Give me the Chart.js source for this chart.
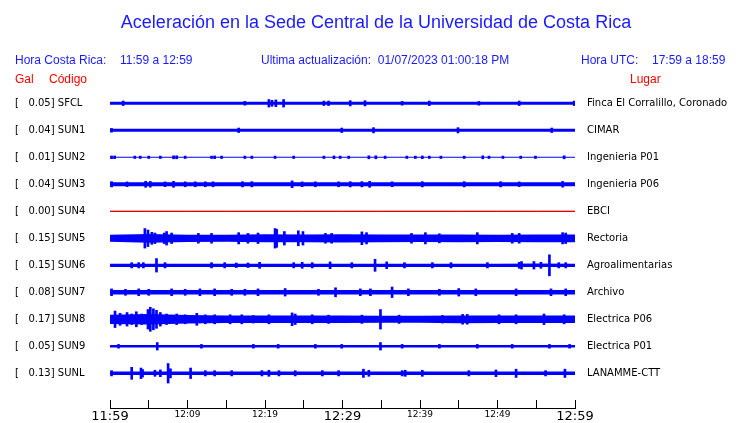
<!DOCTYPE html>
<html><head><meta charset="utf-8">
<script src="https://cdn.jsdelivr.net/npm/chart.js@4.4.0/dist/chart.umd.min.js"></script>
<style>html,body{margin:0;padding:0;background:#fff;}canvas{display:block;}</style>
</head><body>
<canvas id="c" width="740" height="423"></canvas>
<script>
// ---- data ----
const titleText = 'Aceleración en la Sede Central de la Universidad de Costa Rica';
const localTimeLabel = 'Hora Costa Rica:';
const localTimeRange = '11:59 a 12:59';
const updateText = 'Ultima actualización:  01/07/2023 01:00:18 PM';
const utcLabel = 'Hora UTC:';
const utcRange = '17:59 a 18:59';
const colHeadGal = 'Gal', colHeadCode = 'Código', colHeadPlace = 'Lugar';

const stationCodes = ['SFCL','SUN1','SUN2','SUN3','SUN4','SUN5','SUN6','SUN7','SUN8','SUN9','SUNL'];
const stationPlaces = ['Finca El Corralillo, Coronado','CIMAR','Ingenieria P01','Ingenieria P06','EBCI','Rectoria','Agroalimentarias','Archivo','Electrica P06','Electrica P01','LANAMME-CTT'];
const peakGal = [0.05,0.04,0.01,0.04,0.00,0.15,0.15,0.08,0.17,0.05,0.13];

// minutes after 11:59 local time
const timeTickLabels = ['11:59','','12:09','','12:19','','12:29','','12:39','','12:49','','12:59'];
const majorTimeLabels = ['11:59','12:29','12:59'];

// background half-amplitude envelope (Gal) every 5 minutes
const envMinutes = [0,5,10,15,20,25,30,35,40,45,50,55,60];
const envSFCL = [0.020,0.020,0.020,0.020,0.021,0.021,0.021,0.020,0.020,0.019,0.019,0.019,0.019];
const envSUN1 = [0.019,0.019,0.019,0.019,0.019,0.019,0.019,0.019,0.019,0.019,0.019,0.019,0.019];
const envSUN2 = [0.007,0.007,0.007,0.007,0.007,0.007,0.007,0.007,0.007,0.007,0.007,0.007,0.007];
const envSUN3 = [0.026,0.026,0.026,0.026,0.026,0.026,0.026,0.026,0.026,0.026,0.026,0.026,0.026];
const envSUN4 = [0,0,0,0,0,0,0,0,0,0,0,0,0];
const envSUN5 = [0.047,0.058,0.048,0.047,0.054,0.051,0.055,0.051,0.049,0.051,0.048,0.051,0.051];
const envSUN6 = [0.022,0.022,0.022,0.022,0.022,0.022,0.022,0.022,0.022,0.022,0.022,0.024,0.022];
const envSUN7 = [0.030,0.030,0.030,0.030,0.030,0.030,0.030,0.030,0.030,0.030,0.030,0.030,0.030];
const envSUN8 = [0.062,0.070,0.056,0.049,0.049,0.049,0.049,0.046,0.046,0.052,0.049,0.049,0.049];
const envSUN9 = [0.016,0.016,0.016,0.016,0.016,0.016,0.016,0.016,0.016,0.016,0.016,0.016,0.016];
const envSUNL = [0.024,0.024,0.024,0.024,0.024,0.024,0.024,0.024,0.024,0.024,0.024,0.024,0.024];

// bursts: [minute, half-amplitude Gal]
const spikesSFCL = [[1.7,0.03],[17.4,0.025],[20.5,0.05],[20.9,0.04],[21.4,0.045],[22.4,0.05],[27.6,0.03],[28.2,0.03],[31,0.035],[32.9,0.035],[37.7,0.025],[41.2,0.03],[47.6,0.025],[52.8,0.03],[59.9,0.03]];
const spikesSUN1 = [[0.2,0.025],[16.6,0.03],[29.9,0.03],[34,0.035],[44.9,0.035],[57,0.03]];
const spikesSUN2 = [[0.2,0.018],[0.6,0.018],[3.2,0.016],[3.9,0.016],[5.0,0.016],[6.5,0.016],[8.2,0.02],[8.6,0.02],[9.7,0.016],[13.1,0.016],[13.5,0.018],[14.4,0.016],[17.4,0.016],[18.3,0.016],[21.3,0.016],[23.7,0.016],[27.6,0.016],[28.9,0.018],[29.7,0.016],[30.8,0.016],[33.4,0.02],[34.3,0.02],[35.5,0.016],[38.3,0.016],[39.4,0.016],[40.3,0.018],[41.2,0.016],[42.7,0.016],[45.7,0.016],[48.1,0.02],[48.9,0.016],[50.7,0.016],[53.0,0.016],[54.9,0.016],[58.6,0.02]];
const spikesSUN3 = [[0.2,0.035],[2.2,0.032],[4.6,0.04],[5.2,0.038],[7.1,0.032],[8.2,0.04],[9.7,0.033],[11,0.033],[12.3,0.033],[13.3,0.033],[17.1,0.035],[18.3,0.035],[23.5,0.045],[24.8,0.032],[26.5,0.033],[29.5,0.033],[31,0.035],[32.5,0.035],[33.5,0.04],[36.4,0.033],[40.3,0.035],[45.7,0.035],[50.4,0.035],[52.8,0.032],[58.4,0.038]];
const spikesSUN4 = [];
const spikesSUN5 = [[4.5,0.13],[4.9,0.11],[5.4,0.08],[5.8,0.07],[7.0,0.07],[7.3,0.09],[7.95,0.07],[11.4,0.065],[13.1,0.065],[16.6,0.075],[17.8,0.065],[19.1,0.07],[21.3,0.13],[21.5,0.12],[22.5,0.09],[24.3,0.1],[24.9,0.09],[27.8,0.065],[28.6,0.065],[32.5,0.085],[33.1,0.075],[38.9,0.065],[40.7,0.075],[42.5,0.06],[47.4,0.075],[51.9,0.065],[52.8,0.065],[58.4,0.075],[58.8,0.07]];
const spikesSUN6 = [[2.8,0.035],[3.7,0.035],[4.3,0.035],[6.0,0.09],[7.1,0.035],[13.1,0.035],[14.8,0.035],[16.3,0.03],[17.8,0.03],[19.3,0.04],[23.7,0.035],[24.8,0.04],[26.1,0.035],[28.4,0.045],[31.2,0.035],[34.2,0.08],[35.7,0.045],[38,0.035],[41.6,0.035],[44,0.035],[48.7,0.035],[52.8,0.04],[53.1,0.05],[54.7,0.05],[55.6,0.04],[56.7,0.14],[57.9,0.035],[58.8,0.035]];
const spikesSUN7 = [[0.2,0.045],[2,0.04],[3.7,0.045],[5,0.04],[7.95,0.045],[9.7,0.04],[11.6,0.045],[13.5,0.045],[15.7,0.04],[17.4,0.04],[19.1,0.045],[22.6,0.05],[26.9,0.04],[29.1,0.06],[32.3,0.045],[33.6,0.045],[36.4,0.07],[38.5,0.045],[42.5,0.04],[45,0.05],[47.2,0.045],[52.4,0.045],[56.9,0.045],[58.8,0.045]];
const spikesSUN8 = [[0.65,0.11],[1.3,0.08],[2.2,0.09],[2.8,0.07],[3.4,0.1],[4.1,0.07],[4.9,0.13],[5.2,0.16],[5.6,0.14],[6.0,0.12],[6.5,0.09],[7.3,0.07],[8.6,0.07],[9.7,0.06],[11.2,0.08],[12.3,0.06],[13.5,0.06],[15.5,0.06],[17.0,0.06],[18.5,0.05],[20.5,0.06],[23.5,0.085],[23.9,0.07],[26.1,0.06],[28.2,0.055],[32.5,0.055],[34.9,0.13],[37.3,0.055],[42.9,0.05],[45.5,0.065],[46.1,0.065],[50.2,0.06],[52.4,0.06],[56,0.07],[58.6,0.06]];
const spikesSUN9 = [[1.1,0.025],[6.1,0.05],[11.8,0.025],[18.5,0.025],[21.7,0.025],[26.5,0.025],[29.9,0.025],[34.9,0.05],[37.7,0.025],[42.5,0.025],[47.4,0.025],[51.9,0.025],[56.7,0.025],[59.3,0.025]];
const spikesSUNL = [[0.2,0.035],[2.8,0.08],[4.0,0.07],[4.2,0.05],[5.8,0.04],[6.5,0.045],[7.5,0.13],[7.8,0.06],[10.4,0.07],[12.3,0.035],[13.5,0.035],[15.7,0.035],[19.6,0.035],[20.5,0.04],[21.8,0.035],[23.9,0.035],[27.4,0.035],[29.5,0.035],[32.7,0.055],[33.4,0.04],[37.7,0.035],[38.1,0.04],[40.3,0.04],[46.3,0.035],[49.8,0.045],[52.4,0.055],[56.2,0.035],[58.7,0.055]];

const envelopes = [envSFCL,envSUN1,envSUN2,envSUN3,envSUN4,envSUN5,envSUN6,envSUN7,envSUN8,envSUN9,envSUNL];
const spikeLists = [spikesSFCL,spikesSUN1,spikesSUN2,spikesSUN3,spikesSUN4,spikesSUN5,spikesSUN6,spikesSUN7,spikesSUN8,spikesSUN9,spikesSUNL];

// ---- chart ----
const GAIN = 2.78; // trace rows per Gal
const TRACE_BLUE = '#0000ff';
const FLAT_RED = '#dd0000';

const datasets = [];
stationCodes.forEach((code, i) => {
  const env = envelopes[i];
  const flat = peakGal[i] === 0;
  const col = flat ? FLAT_RED : TRACE_BLUE;
  datasets.push({type:'line', label: code+' +', data: envMinutes.map((m,k)=>({x:m, y:i - env[k]*GAIN})),
    borderColor: flat ? col : 'rgba(0,0,0,0)', borderWidth: 1, backgroundColor: col, pointRadius: 0, tension: 0, fill: false});
  datasets.push({type:'line', label: code+' -', data: envMinutes.map((m,k)=>({x:m, y:i + env[k]*GAIN})),
    borderColor: flat ? col : 'rgba(0,0,0,0)', borderWidth: 1, backgroundColor: col, pointRadius: 0, tension: 0, fill: flat ? false : '-1'});
  if (spikeLists[i].length) {
    datasets.push({type:'bar', label: code+' bursts', data: spikeLists[i].map(([m,a])=>({x:m, y:[i - a*GAIN, i + a*GAIN]})),
      backgroundColor: col, borderWidth: 0, barThickness: 2, grouped: false});
  }
});

const rowTicks = (scale) => { scale.ticks = stationCodes.map((_, i) => ({value: i})); };
const Y_MIN = -1.011, Y_MAX = 10.989;

const headerPlugin = {
  id: 'header',
  afterDraw(chart) {
    const ctx = chart.ctx;
    ctx.save();
    ctx.textBaseline = 'middle';
    ctx.fillStyle = '#1a1aff';
    ctx.font = '18px "Liberation Sans"';
    ctx.textAlign = 'center';
    ctx.fillText(titleText, 376, 23);
    ctx.textAlign = 'left';
    ctx.font = '12px "Liberation Sans"';
    ctx.fillText(localTimeLabel, 15, 61);
    ctx.fillText(localTimeRange, 120, 61);
    ctx.fillText(updateText, 261, 61);
    ctx.fillText(utcLabel, 581, 61);
    ctx.fillText(utcRange, 652, 61);
    ctx.fillStyle = '#ff0000';
    ctx.fillText(colHeadGal, 15, 80);
    ctx.fillText(colHeadCode, 49, 80);
    ctx.fillText(colHeadPlace, 630, 80);
    ctx.restore();
  }
};

Chart.defaults.font.family = '"DejaVu Sans"';
new Chart(document.getElementById('c'), {
  type: 'line',
  data: { datasets },
  options: {
    responsive: false, animation: false, devicePixelRatio: 1,
    layout: { padding: { top: 76, left: 15, right: 0, bottom: 0 } },
    plugins: { legend: {display:false}, tooltip: {enabled:false}, title:{display:false} },
    scales: {
      x: { type:'linear', position:'bottom', min:0, max:60, offset:false,
        ticks:{ display:false, stepSize:5, autoSkip:false },
        grid:{ display:true, offset:false, drawOnChartArea:false, drawTicks:true, tickLength:8, color:'#000', tickColor:'#000', tickWidth:1 },
        border:{ display:false },
        afterFit(s){ s.height = 8; } },
      x2: { type:'linear', position:'bottom', min:0, max:60, offset:false,
        ticks:{ stepSize:5, autoSkip:false, maxRotation:0, padding:1, color:'#000',
          callback:(v, idx) => timeTickLabels[idx],
          font:(c) => ({ family:'"DejaVu Sans"', size: majorTimeLabels.includes(timeTickLabels[c.index]) ? 13 : 9 }) },
        grid:{ display:true, offset:false, drawOnChartArea:false, drawTicks:false },
        border:{ display:true, color:'#000', width:1 },
        afterFit(s){ s.height = 15; } },
      y: { type:'linear', position:'left', reverse:true, min:Y_MIN, max:Y_MAX,
        afterBuildTicks: rowTicks,
        ticks:{ autoSkip:false, crossAlign:'far', padding:0, color:'#000', font:{size:10},
          callback:(v, idx) => '[   ' + peakGal[idx].toFixed(2) + '] ' + stationCodes[idx] },
        grid:{ display:false }, border:{ display:false },
        afterFit(s){ s.width = 95; } },
      y2: { type:'linear', position:'right', reverse:true, min:Y_MIN, max:Y_MAX,
        afterBuildTicks: rowTicks,
        ticks:{ autoSkip:false, crossAlign:'near', padding:12, color:'#000', font:{size:10},
          callback:(v, idx) => stationPlaces[idx] },
        grid:{ display:false, drawTicks:false }, border:{ display:false },
        afterFit(s){ s.width = 165; } }
    }
  },
  plugins: [headerPlugin]
});
</script>
</body></html>
